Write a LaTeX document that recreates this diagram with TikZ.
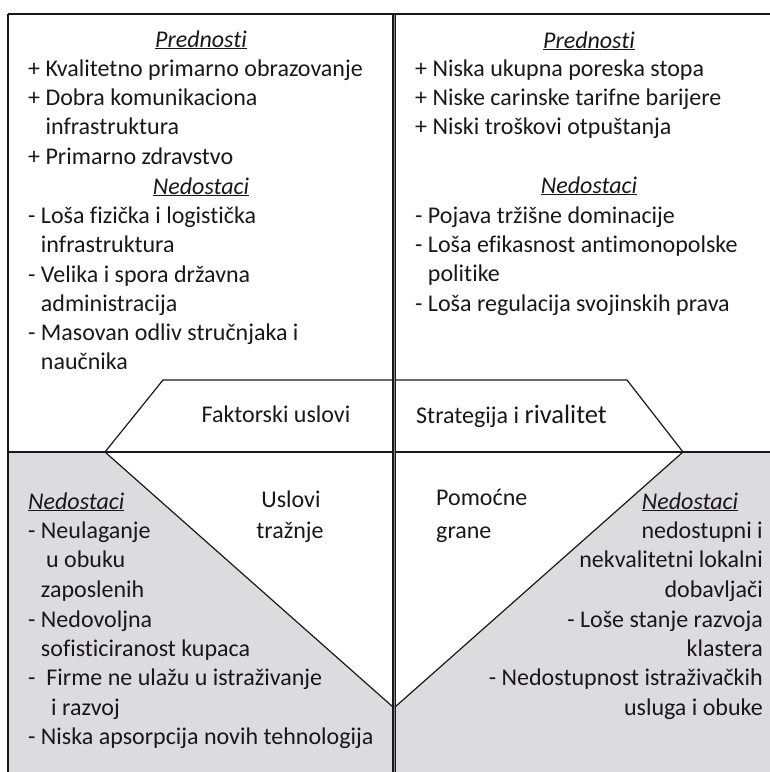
\documentclass[tikz,border=0pt]{standalone}
\usepackage{fontspec}
\setmainfont[Ligatures=NoCommon]{Carlito}
\definecolor{ink}{HTML}{1A1718}
\definecolor{fieldgray}{HTML}{DCDCDE}
\newcommand{\hd}[1]{\underline{\textit{#1}}}
\begin{document}
\begin{tikzpicture}[x=1pt,y=-1pt,
  txt/.style={inner sep=0pt, text=ink, font=\fontsize{24}{28}\selectfont},
  lft/.style={txt, anchor=base west},
  rgt/.style={txt, anchor=base east},
  ctr/.style={txt, anchor=base},
  frame/.style={draw=ink, line width=1.4pt},
  edge/.style={draw=ink, line width=1.2pt}]
\useasboundingbox (0,0) rectangle (770,772);

% shaded lower fields
\fill[fieldgray] (8,452) -- (105,452) -- (393,707) -- (393,772) -- (8,772) -- cycle;
\fill[fieldgray] (395,707) -- (683,452) -- (770,452) -- (770,772) -- (395,772) -- cycle;

% frame
\draw[ink, line width=2pt] (8,14) -- (770,14);
\draw[frame] (8,14) -- (8,772);
\draw[frame] (8,452) -- (770,452);
% central divider (double rule)
\draw[ink, line width=4pt] (394,14) -- (394,772);
\draw[black!45, line width=1pt] (394,15) -- (394,772);

% diamond
\draw[edge, line join=miter] (393,380) -- (163,380) -- (105,452) -- (393,707);
\draw[edge, line join=miter] (395,380) -- (627,380) -- (683,452) -- (395,707);

% upper left field
\node[ctr] (pl) at (201,47) {\hd{Prednosti}};
\node[lft] (pl1) at (28,76) {+ Kvalitetno primarno obrazovanje};
\node[lft] (pl2) at (28,105) {+ Dobra komunikaciona};
\node[lft] (pl3) at (28,134) {\phantom{+ }infrastruktura};
\node[lft] (pl4) at (28,164) {+ Primarno zdravstvo};
\node[ctr] (nl) at (201,194) {\hd{Nedostaci}};
\node[lft] (nl1) at (28,223) {- Loša fizička i logistička};
\node[lft] (nl2) at (28,252) {\phantom{- }infrastruktura};
\node[lft] (nl3) at (28,282) {- Velika i spora državna};
\node[lft] (nl4) at (28,311) {\phantom{- }administracija};
\node[lft] (nl5) at (28,340) {- Masovan odliv stručnjaka i};
\node[lft] (nl6) at (28,369) {\phantom{- }naučnika};

% upper right field
\node[ctr] (pr) at (589,48) {\hd{Prednosti}};
\node[lft] (pr1) at (415,76) {+ Niska ukupna poreska stopa};
\node[lft] (pr2) at (415,105) {+ Niske carinske tarifne barijere};
\node[lft] (pr3) at (415,134) {+ Niski troškovi otpuštanja};
\node[ctr] (nr) at (589,193) {\hd{Nedostaci}};
\node[lft] (nr1) at (415,223) {- Pojava tržišne dominacije};
\node[lft] (nr2) at (415,252) {- Loša efikasnost antimonopolske};
\node[lft] (nr3) at (415,281) {\phantom{- }politike};
\node[lft] (nr4) at (415,311) {- Loša regulacija svojinskih prava};

% diamond labels
\node[ctr] (fak) at (276,422) {Faktorski uslovi};
\node[lft] (str) at (416,423) {Strategija i {\fontsize{26.5}{28}\selectfont rivalitet}};
\node[ctr] (tr1) at (291,507) {Uslovi};
\node[ctr] (tr2) at (290,538) {tražnje};
\node[lft] (pg1) at (436,505) {Pomoćne};
\node[lft] (pg2) at (436,538) {grane};

% lower left field
\node[lft] (dl) at (28,509) {\hd{Nedostaci}};
\node[lft] (dl1) at (28,538) {- Neulaganje};
\node[lft] (dl2) at (46,567) {u obuku};
\node[lft] (dl3) at (28,597) {\phantom{- }zaposlenih};
\node[lft] (dl4) at (28,627) {- Nedovoljna};
\node[lft] (dl5) at (28,656) {\phantom{- }sofisticiranost kupaca};
\node[lft] (dl6) at (28,685) {-\ \ Firme ne ulažu u istraživanje};
\node[lft] (dl7) at (51,715) {i razvoj};
\node[lft] (dl8) at (28,744) {- Niska apsorpcija novih tehnologija};

% lower right field
\node[ctr] (dr) at (690,509) {\hd{Nedostaci}};
\node[rgt] (dr1) at (763,538) {nedostupni i};
\node[rgt] (dr2) at (763,567) {nekvalitetni lokalni};
\node[rgt] (dr3) at (763,597) {dobavljači};
\node[rgt] (dr4) at (763,627) {- Loše stanje razvoja};
\node[rgt] (dr5) at (763,656) {klastera};
\node[rgt] (dr6) at (763,685) {- Nedostupnost istraživačkih};
\node[rgt] (dr7) at (763,715) {usluga i obuke};
\end{tikzpicture}
\end{document}
